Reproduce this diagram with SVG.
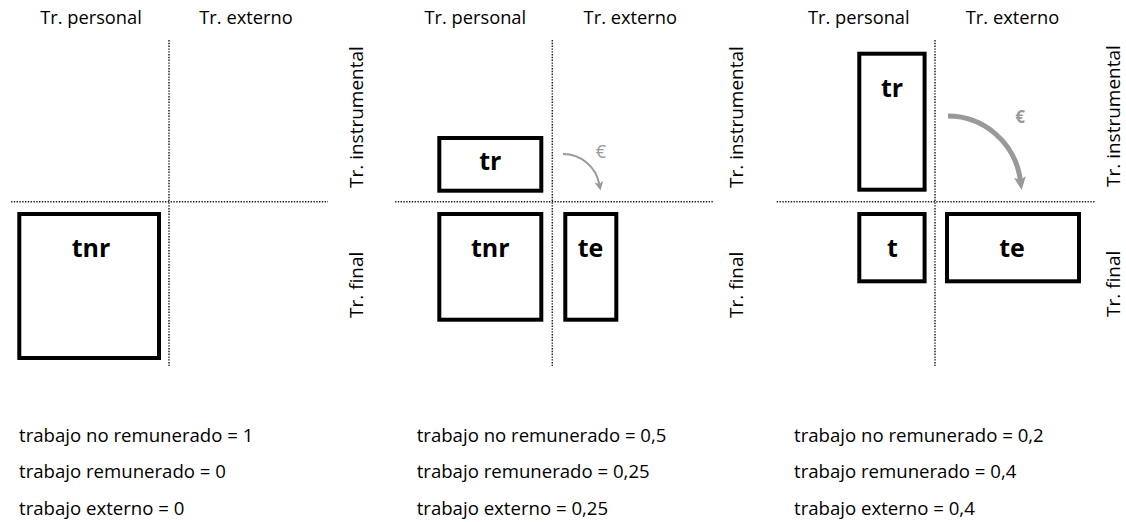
<svg xmlns="http://www.w3.org/2000/svg" width="1126" height="522" viewBox="0 0 1126 522">
<style>
text { font-family: "Open Sans", "Liberation Sans", sans-serif; fill: #000; }
.hdr { font-size: 18.3px; text-anchor: middle; }
.vlab { font-size: 19px; }
.lbl { font-size: 25px; font-weight: bold; text-anchor: middle; }
.stat { font-size: 18.6px; }
.box { fill: #fff; stroke: #000; stroke-width: 4; }
.dot { stroke: #222; stroke-width: 1.5; stroke-dasharray: 1.4 1.4; fill: none; }
.arr { fill: none; stroke: #999; }
.eur { fill: #999; font-size: 18px; text-anchor: middle; }
</style>
<defs>
<marker id="ahS" markerUnits="userSpaceOnUse" markerWidth="10" markerHeight="10" refX="2.5" refY="4.5" orient="auto">
<path d="M0,0 L9,4.5 L0,9 L2.5,4.5 z" fill="#999"/>
</marker>
<marker id="ahL" markerUnits="userSpaceOnUse" markerWidth="14" markerHeight="14" refX="3" refY="6" orient="auto">
<path d="M0,0 L13,6 L0,12 L3,6 z" fill="#999"/>
</marker>
</defs>

<!-- Panel 1 -->
<g id="panel1">
<text class="hdr" x="91" y="24">Tr. personal</text>
<text class="hdr" x="246" y="24">Tr. externo</text>
<text class="vlab" transform="translate(363,188) rotate(-90)">Tr. instrumental</text>
<text class="vlab" transform="translate(363,318) rotate(-90)">Tr. final</text>
<line class="dot" x1="169" y1="40" x2="169" y2="366"/>
<line class="dot" x1="11" y1="201.7" x2="328" y2="201.7"/>
</g>
<g id="p1-tnr">
<rect class="box" x="19.3" y="214" width="139.7" height="144"/>
<text class="lbl" x="91" y="256.7">tnr</text>
</g>
<g id="p1-stats">
<text class="stat" x="19" y="441.7">trabajo no remunerado = 1</text>
<text class="stat" x="19" y="478.3">trabajo remunerado = 0</text>
<text class="stat" x="19" y="515">trabajo externo = 0</text>
</g>

<!-- Panel 2 -->
<g id="panel2">
<text class="hdr" x="475.3" y="24">Tr. personal</text>
<text class="hdr" x="630.3" y="24">Tr. externo</text>
<text class="vlab" transform="translate(743,188) rotate(-90)">Tr. instrumental</text>
<text class="vlab" transform="translate(743,318) rotate(-90)">Tr. final</text>
<line class="dot" x1="552.3" y1="40" x2="552.3" y2="366"/>
<line class="dot" x1="395" y1="201.7" x2="713" y2="201.7"/>
</g>
<g id="p2-tr">
<rect class="box" x="439.3" y="138" width="102" height="52.7"/>
<text class="lbl" x="490.3" y="170">tr</text>
</g>
<g id="p2-tnr">
<rect class="box" x="439.3" y="214" width="102" height="105.7"/>
<text class="lbl" x="490.3" y="256.7">tnr</text>
</g>
<g id="p2-te">
<rect class="box" x="565.3" y="214" width="51" height="105.7"/>
<text class="lbl" x="590.5" y="256.7">te</text>
</g>
<g id="p2-stats">
<text class="stat" x="416.7" y="441.7">trabajo no remunerado = 0,5</text>
<text class="stat" x="416.7" y="478.3">trabajo remunerado = 0,25</text>
<text class="stat" x="416.7" y="515">trabajo externo = 0,25</text>
</g>

<!-- Panel 3 -->
<g id="panel3">
<text class="hdr" x="858.8" y="24">Tr. personal</text>
<text class="hdr" x="1012.5" y="24">Tr. externo</text>
<text class="vlab" transform="translate(1120,187) rotate(-90)">Tr. instrumental</text>
<text class="vlab" transform="translate(1120,317) rotate(-90)">Tr. final</text>
<line class="dot" x1="935" y1="40" x2="935" y2="366"/>
<line class="dot" x1="776.7" y1="201.7" x2="1095" y2="201.7"/>
</g>
<g id="p3-tr">
<rect class="box" x="859.3" y="53.7" width="65.3" height="136"/>
<text class="lbl" x="892" y="96.7">tr</text>
</g>
<g id="p3-t">
<rect class="box" x="859.3" y="214" width="65.3" height="67.3"/>
<text class="lbl" x="892.5" y="256.7">t</text>
</g>
<g id="p3-te">
<rect class="box" x="947" y="214" width="132" height="67.3"/>
<text class="lbl" x="1012" y="256.7">te</text>
</g>
<g id="p3-stats">
<text class="stat" x="794" y="441.7">trabajo no remunerado = 0,2</text>
<text class="stat" x="794" y="478.3">trabajo remunerado = 0,4</text>
<text class="stat" x="794" y="515">trabajo externo = 0,4</text>
</g>

<!-- Connectors -->
<g id="connectors">
<path class="arr" stroke-width="2" d="M563,154 A37,37 0 0 1 599.3,184" marker-end="url(#ahS)"/>
<text class="eur" x="601" y="157.5">€</text>
<path class="arr" stroke-width="5" d="M948,116 A73,74 0 0 1 1020.3,180" marker-end="url(#ahL)"/>
<text class="eur" x="1020" y="122.5" style="font-weight:bold;font-size:17px">€</text>
</g>
</svg>
